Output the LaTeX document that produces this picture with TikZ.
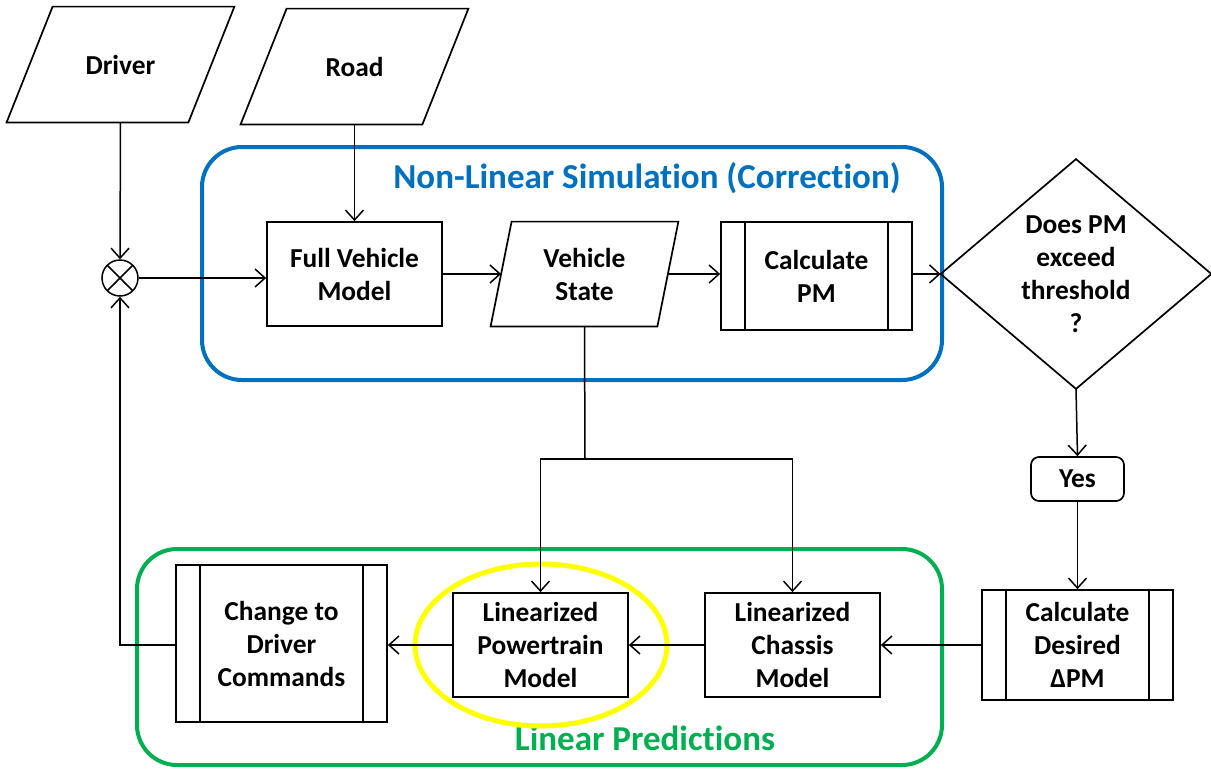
\documentclass[tikz,border=0pt]{standalone}
\usepackage{fontspec}
\setmainfont{Carlito}[Ligatures=NoCommon]
\usetikzlibrary{arrows.meta,calc}
\definecolor{nlblue}{HTML}{0070C0}
\definecolor{lpgreen}{HTML}{00B050}
\definecolor{hlyellow}{HTML}{FFFF00}
\tikzset{
  every node/.style={font=\fontsize{13.7}{16.5}\selectfont\bfseries, align=center, inner sep=0pt},
  arr/.style={-{Straight Barb[length=5pt,width=9pt]}, line width=0.75pt},
  ln/.style={line width=0.85pt},
  proc/.style={draw, line width=0.85pt, rectangle},
  predef/.style={proc, path picture={
     \draw[line width=0.85pt] ([xshift=12pt]path picture bounding box.north west) -- ([xshift=12pt]path picture bounding box.south west);
     \draw[line width=0.85pt] ([xshift=-12pt]path picture bounding box.north east) -- ([xshift=-12pt]path picture bounding box.south east);}},
  para/.style={rectangle},
  group/.style={rounded corners=20pt, line width=2pt},
  grouptitle/.style={font=\fontsize{17.5}{21}\selectfont\bfseries},
  sumnode/.style={circle, draw, line width=0.75pt, minimum size=18pt, path picture={
     \draw[line width=0.75pt] (path picture bounding box.north west) -- (path picture bounding box.south east);
     \draw[line width=0.75pt] (path picture bounding box.north east) -- (path picture bounding box.south west);}},
}
\begin{document}
\begin{tikzpicture}[x=0.5pt,y=-0.5pt]
\useasboundingbox (0,0) rectangle (1211,771);

% groups
\draw[group, nlblue] (202,147) rectangle (942,380);
\node[grouptitle, text=nlblue] (nltitle) at (647,178) {Non-Linear Simulation (Correction)};
\draw[group, lpgreen] (137,549) rectangle (942,765);
\node[grouptitle, text=lpgreen] (lptitle) at (645,738) {Linear Predictions};

% highlight
\draw[hlyellow, line width=2.5pt] (541,645) ellipse [x radius=63pt, y radius=40.5pt];

% parallelogram inputs
\node[para, minimum width=113.5pt, minimum height=57.5pt] (driver) at (120.5,64.5) {Driver};
\draw[ln] ([xshift=23pt]driver.north west) -- (driver.north east) -- ([xshift=-23pt]driver.south east) -- (driver.south west) -- cycle;
\node[para, minimum width=113.5pt, minimum height=57.5pt] (road) at (354.5,66.5) {Road};
\draw[ln] ([xshift=23pt]road.north west) -- (road.north east) -- ([xshift=-23pt]road.south east) -- (road.south west) -- cycle;

% sum
\node[sumnode] (sum) at (120,278) {};

% nonlinear blocks
\node[proc, minimum width=87.5pt, minimum height=52pt] (fv) at (354.5,274) {Full Vehicle\\Model};
\node[para, minimum width=93.5pt, minimum height=52pt] (vs) at (584.5,274) {Vehicle\\State};
\draw[ln] ([xshift=10.5pt]vs.north west) -- (vs.north east) -- ([xshift=-10.5pt]vs.south east) -- (vs.south west) -- cycle;
\node[predef, minimum width=95.5pt, minimum height=54pt] (cpm) at (816.5,276) {Calculate\\PM};

% decision
\node[minimum width=135pt, minimum height=114.5pt] (dec) at (1076,274) {Does PM\\exceed\\threshold\\?};
\draw[ln] (dec.west) -- (dec.north) -- (dec.east) -- (dec.south) -- cycle;

\node[draw, line width=0.85pt, rounded corners=4pt, minimum width=46.5pt, minimum height=22pt] (yes) at (1077.5,479) {Yes};
\node[predef, minimum width=95.5pt, minimum height=55pt] (cdpm) at (1077.5,645) {Calculate\\Desired\\ΔPM};

% linear blocks
\node[proc, minimum width=87.5pt, minimum height=52pt] (ch) at (792.5,645) {Linearized\\Chassis\\Model};
\node[proc, minimum width=87.5pt, minimum height=52pt] (pt) at (540.5,645) {Linearized\\Powertrain\\Model};
\node[predef, minimum width=105.5pt, minimum height=78.5pt] (cdc) at (281.5,643.5) {Change to\\Driver\\Commands};

\coordinate (split) at (585,459);

% connectors
\draw[arr] (driver.south) -- (sum.north);
\draw[arr] (road.south) -- (fv.north);
\draw[arr] (sum.east) -- (fv.west |- sum.east);
\draw[arr] (fv.east) -- ([xshift=5.25pt]vs.west);
\draw[arr] ([xshift=-5.25pt]vs.east) -- (vs.east -| cpm.west);
\draw[arr] (cpm.east |- dec.west) -- (dec.west);
\draw[arr] (dec.south) -- (yes.north);
\draw[arr] (yes.south) -- (cdpm.north);
\draw[arr] (cdpm.west) -- (ch.east);
\draw[arr] (ch.west) -- (pt.east);
\draw[arr] (pt.west) -- (cdc.east |- pt.west);
\draw[arr] (cdc.west |- pt.west) -| (sum.south);
\draw[arr, -] (vs.south) -- (split);
\draw[arr] (split) -| (pt.north);
\draw[arr] (split) -| (ch.north);
\end{tikzpicture}
\end{document}
